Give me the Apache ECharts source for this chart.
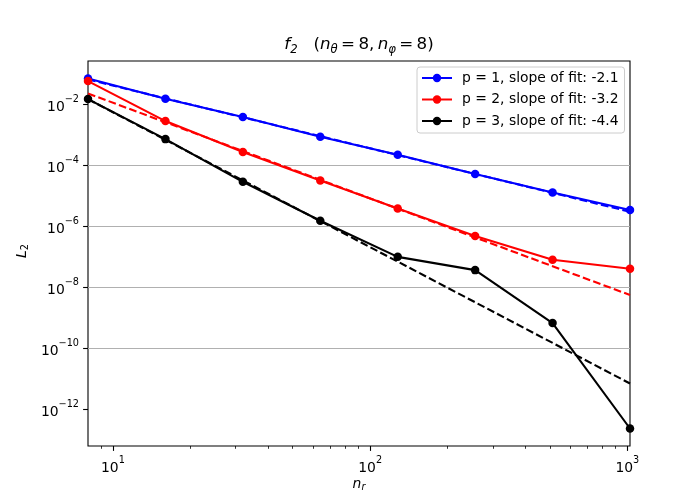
<!DOCTYPE html>
<html><head><meta charset="utf-8">
<script src="https://cdn.jsdelivr.net/npm/echarts@6/dist/echarts.min.js"></script>
<style>html,body{margin:0;padding:0;background:#fff}#c{width:700px;height:500px}</style>
</head><body><div id="c"></div>
<script>
// ---- data ----
const nr = [8, 16, 32, 64, 128, 256, 512, 1024];
const errP1 = [0.069, 0.0149, 0.00375, 8.5e-4, 2.18e-4, 5.07e-5, 1.26e-5, 3.35e-6];
const errP2 = [0.0568, 2.77e-3, 2.67e-4, 3.13e-5, 3.77e-6, 4.7e-7, 7.85e-8, 3.98e-8];
const errP3 = [0.0146, 7.1e-4, 2.83e-5, 1.49e-6, 9.8e-8, 3.6e-8, 6.6e-10, 2.31e-13];
const fitN = [8, 1024];
const fitP1 = [0.064, 2.95e-6];
const fitP2 = [0.0223, 5.5e-9];
const fitP3 = [0.0145, 6.9e-12];
const seriesNames = ['p = 1, slope of fit: -2.1', 'p = 2, slope of fit: -3.2', 'p = 3, slope of fit: -4.4'];
const seriesColors = ['#0000ff', '#ff0000', '#000000'];
const xMajorTicks = [10, 100, 1000];
const xMinorTicks = [9, 20, 30, 40, 50, 60, 70, 80, 90, 200, 300, 400, 500, 600, 700, 800, 900];
const yMajorTicks = [1e-12, 1e-10, 1e-8, 1e-6, 1e-4, 1e-2];

const L = Math.log10;
const pairs = (xs, ys) => xs.map((x, i) => [L(x), L(ys[i])]);

const allY = errP1.concat(errP2, errP3).map(L);
const yLo = Math.min(...allY), yHi = Math.max(...allY);
const yPad = 0.05 * (yHi - yLo);
const yMin = yLo - yPad, yMax = yHi + yPad;
const xMin = L(nr[0]), xMax = L(nr[nr.length - 1]);

const FONT = 'DejaVu Sans';
const supRich = {
  b: {fontFamily: FONT, fontSize: 13.9, color: '#000', lineHeight: 20, verticalAlign: 'bottom'},
  s: {fontFamily: FONT, fontSize: 9.7, color: '#000', lineHeight: 12, verticalAlign: 'top'}
};

const mainSeries = [errP1, errP2, errP3].map((ys, i) => ({
  type: 'line', name: seriesNames[i], data: pairs(nr, ys),
  symbol: 'circle', symbolSize: 8.5, showAllSymbol: true,
  lineStyle: {color: seriesColors[i], width: 2.1},
  itemStyle: {color: seriesColors[i]},
  emphasis: {disabled: true}, z: 3, animation: false
}));
const fitSeries = [fitP1, fitP2, fitP3].map((ys, i) => ({
  type: 'line', name: 'fit' + (i + 1), data: pairs(fitN, ys),
  symbol: 'none',
  lineStyle: {color: seriesColors[i], width: 2.1, type: [7.7, 3.3]},
  emphasis: {disabled: true}, z: 2, animation: false
}));

const chart = echarts.init(document.getElementById('c'), null, {renderer: 'canvas'});
chart.setOption({
  backgroundColor: '#fff',
  animation: false,
  grid: {left: 88, right: 70, top: 61, bottom: 54, show: true, borderColor: '#000', borderWidth: 1.1, backgroundColor: 'transparent'},
  xAxis: [{
    type: 'value', position: 'bottom', min: xMin, max: xMax, gridIndex: 0,
    axisLine: {show: false},
    axisTick: {show: true, customValues: xMajorTicks.map(L), length: 4.9, lineStyle: {color: '#000', width: 1.1}},
    axisLabel: {show: true, customValues: xMajorTicks.map(L), margin: 9,
      formatter: v => '{b|10}{s|' + Math.round(v) + '}', rich: supRich},
    splitLine: {show: false}
  }, {
    type: 'value', position: 'bottom', min: xMin, max: xMax, gridIndex: 0, offset: 0,
    axisLine: {show: false},
    axisTick: {show: true, customValues: xMinorTicks.map(L), length: 2.8, lineStyle: {color: '#000', width: 0.8}},
    axisLabel: {show: false},
    splitLine: {show: false}
  }],
  yAxis: {
    type: 'value', min: yMin, max: yMax, splitNumber: 6,
    axisLine: {show: false},
    axisTick: {show: true, customValues: yMajorTicks.map(L), length: 4.9, lineStyle: {color: '#000', width: 1.1}},
    axisLabel: {show: true, customValues: yMajorTicks.map(L), margin: 9,
      formatter: v => '{b|10}{s|\u2212' + Math.abs(Math.round(v)) + '}', rich: supRich},
    splitLine: {show: true, showMinLine: false, showMaxLine: false, lineStyle: {color: '#b0b0b0', width: 1.1}}
  },
  legend: {
    data: seriesNames, orient: 'vertical', left: 417, top: 67,
    itemWidth: 30, itemHeight: 10.5, itemGap: 5.5,
    padding: [3, 6, 4, 4],
    backgroundColor: 'rgba(255,255,255,0.8)', borderColor: '#cccccc', borderWidth: 1, borderRadius: 3,
    textStyle: {fontFamily: FONT, fontSize: 13.9, color: '#000', lineHeight: 16, padding: [0, 0, 0, 5]},
    selectedMode: false
  },
  graphic: [{
    type: 'text', x: 359, y: 45,
    style: {
      text: '{i|f}{sub|2}{n|   (}{i|n}{sub|\u03b8}{n|\u2009=\u20098,\u2009}{i|n}{sub|\u03c6}{n|\u2009=\u20098)}',
      align: 'center', verticalAlign: 'middle',
      rich: {
        i: {fontFamily: FONT, fontStyle: 'italic', fontSize: 16.7, color: '#000', lineHeight: 22},
        n: {fontFamily: FONT, fontSize: 16.7, color: '#000', lineHeight: 22},
        sub: {fontFamily: FONT, fontStyle: 'italic', fontSize: 11.7, color: '#000', lineHeight: 22, padding: [9, 0, 0, 0]}
      }
    }
  }, {
    type: 'text', x: 359, y: 484,
    style: {
      text: '{i|n}{sub|r}', align: 'center', verticalAlign: 'middle',
      rich: {
        i: {fontFamily: FONT, fontStyle: 'italic', fontSize: 13.9, color: '#000', lineHeight: 18},
        sub: {fontFamily: FONT, fontStyle: 'italic', fontSize: 9.7, color: '#000', lineHeight: 18, padding: [7, 0, 0, 0]}
      }
    }
  }, {
    type: 'text', x: 22, y: 251, rotation: Math.PI / 2,
    style: {
      text: '{i|L}{sub|2}', align: 'center', verticalAlign: 'middle',
      rich: {
        i: {fontFamily: FONT, fontStyle: 'italic', fontSize: 13.9, color: '#000', lineHeight: 18},
        sub: {fontFamily: FONT, fontSize: 9.7, color: '#000', lineHeight: 18, padding: [7, 0, 0, 0]}
      }
    }
  }],
  series: fitSeries.concat(mainSeries)
});
</script>
</body></html>
